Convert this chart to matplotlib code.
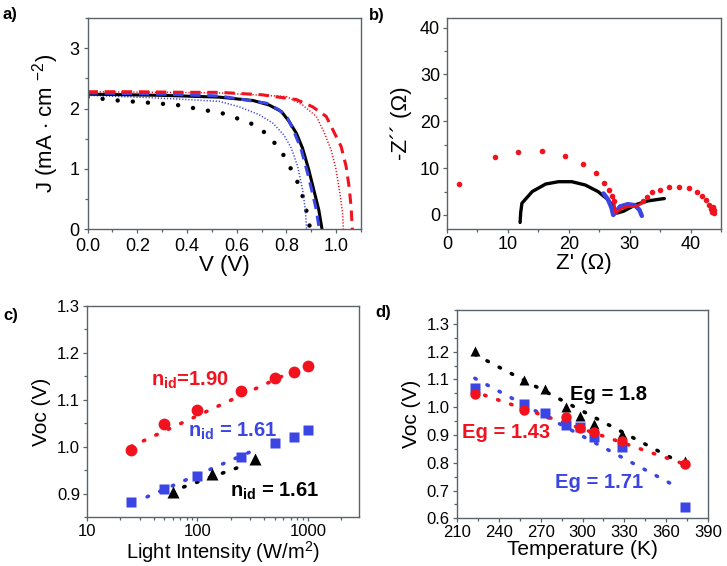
"""
Four-panel solar cell characterisation figure: J-V, Nyquist, Voc vs light, Voc vs T.
"""

import matplotlib

matplotlib.use("Agg")
import matplotlib.pyplot as plt
from matplotlib.ticker import MultipleLocator, LogLocator, NullFormatter

plt.rcParams["font.family"] = ["Liberation Sans", "DejaVu Sans"]
plt.rcParams["mathtext.fontset"] = "custom"
plt.rcParams["mathtext.rm"] = "Liberation Sans"
plt.rcParams["mathtext.it"] = "Liberation Sans:italic"
plt.rcParams["mathtext.bf"] = "Liberation Sans:bold"

RED = "#f2121e"
BLUE = "#3b45e4"
BLACK = "#000000"
FRAME = "#59636a"

# ---- a) J-V curves ----
red_dash_v = [0.0, 0.2, 0.4, 0.53, 0.7, 0.84, 0.905, 0.96, 0.99, 1.02, 1.04, 1.052, 1.06, 1.065]
red_dash_j = [2.28, 2.28, 2.27, 2.27, 2.23, 2.15, 2.03, 1.87, 1.62, 1.37, 1.04, 0.70, 0.37, 0.0]
red_dot_v = [0.0, 0.3, 0.53, 0.8, 0.865, 0.92, 0.95, 0.98, 1.0, 1.015, 1.026, 1.029]
red_dot_j = [2.28, 2.27, 2.26, 2.20, 2.06, 1.87, 1.62, 1.31, 0.98, 0.59, 0.26, 0.0]
blue_dash_v = [0.0, 0.3, 0.53, 0.72, 0.77, 0.805, 0.83, 0.858, 0.885, 0.905, 0.92, 0.932]
blue_dash_j = [2.26, 2.24, 2.21, 2.09, 1.98, 1.84, 1.62, 1.34, 0.93, 0.59, 0.32, 0.0]
black_solid_v = [0.0, 0.3, 0.53, 0.665, 0.73, 0.78, 0.81, 0.84, 0.865, 0.89, 0.91, 0.93, 0.943]
black_solid_j = [2.24, 2.22, 2.19, 2.135, 2.06, 1.95, 1.79, 1.59, 1.34, 0.98, 0.65, 0.32, 0.0]
blue_dot_v = [0.0, 0.2, 0.36, 0.53, 0.61, 0.69, 0.745, 0.79, 0.82, 0.845, 0.865, 0.876, 0.881]
blue_dot_j = [2.22, 2.19, 2.16, 2.12, 2.03, 1.90, 1.76, 1.56, 1.34, 1.04, 0.65, 0.32, 0.0]
black_dot_v = [0.0, 0.12, 0.24, 0.36, 0.45, 0.54, 0.6, 0.65, 0.70, 0.74, 0.78, 0.81, 0.836,
               0.858, 0.876, 0.889, 0.895]
black_dot_j = [2.19, 2.135, 2.10, 2.06, 1.99, 1.925, 1.84, 1.77, 1.65, 1.49, 1.29, 1.06, 0.86,
               0.65, 0.38, 0.15, 0.0]

# ---- b) Nyquist ----
red_z_re = [1.95, 7.96, 11.6, 15.6, 19.3, 22.3, 24.4, 25.8, 26.6, 27.1, 27.5,
            32.2, 32.9, 33.6, 35.0, 36.4, 38.1, 39.7, 41.1, 41.9, 42.6, 43.1, 43.4, 43.6,
            43.7, 43.8, 43.9]
red_z_im = [6.7, 12.4, 13.4, 13.6, 12.6, 10.9, 8.9, 6.9, 5.4, 4.1, 2.9,
            2.9, 3.9, 4.8, 5.3, 5.9, 6.0, 5.7, 5.0, 4.1, 3.2, 2.1, 1.3, 0.6,
            1.7, 1.0, 0.5]
red_arc_re = [27.3, 27.5, 27.7, 28.7, 29.8, 31.0, 31.6, 32.4]
red_arc_im = [4.0, 2.0, 0.4, 1.4, 1.8, 1.8, 2.2, 2.9]
blue_z_re = [25.7, 26.4, 27.0, 27.3, 27.6, 28.4, 29.7, 30.8, 31.6, 32.0]
blue_z_im = [4.6, 3.4, 1.6, 0.0, 0.4, 1.8, 2.3, 2.1, 1.1, -0.2]
black_z_re = [12.0, 12.1, 12.3, 14.0, 16.2, 18.3, 20.5, 22.7, 24.8, 26.5, 27.6, 27.9,
              29.0, 31.0, 33.0, 35.1, 35.7]
black_z_im = [-1.6, 0.5, 2.5, 5.0, 6.6, 7.1, 7.1, 6.4, 5.0, 3.2, 1.1, 0.4,
              0.8, 2.2, 3.0, 3.4, 3.5]

# ---- c) Voc vs light intensity ----
light_sq = [25, 50, 100, 250, 500, 750, 1000]
voc_red_c = [0.993, 1.049, 1.078, 1.119, 1.146, 1.160, 1.173]
voc_blue_c = [0.882, 0.909, 0.938, 0.978, 1.008, 1.021, 1.035]
light_tri = [60, 135, 330]
voc_black_c = [0.904, 0.942, 0.973]
fit_red_c_x = [25, 800]
fit_red_c_y = [1.000, 1.165]
fit_blue_c_x = [35, 330]
fit_blue_c_y = [0.893, 0.993]
fit_black_c_x = [75, 250]
fit_black_c_y = [0.914, 0.958]

# ---- d) Voc vs temperature ----
temp_tri = [223, 258, 273, 288, 298, 308, 328, 373]
voc_black_d = [1.204, 1.098, 1.065, 0.999, 0.969, 0.941, 0.903, 0.807]
temp_sq = [223, 258, 273, 288, 298, 308, 328, 373]
voc_blue_d = [1.068, 1.011, 0.979, 0.937, 0.930, 0.893, 0.855, 0.642]
temp_circ = [223, 258, 288, 298, 308, 328, 373]
voc_red_d = [1.047, 0.990, 0.963, 0.925, 0.909, 0.879, 0.797]
fit_black_d_x = [223, 372]
fit_black_d_y = [1.19, 0.795]
fit_red_d_x = [230, 373]
fit_red_d_y = [1.043, 0.795]
fit_blue_d_x = [223, 365]
fit_blue_d_y = [1.104, 0.72]

FIT_STYLE = dict(lw=2.6, linestyle=(0, (0.4, 3.4)), dash_capstyle="round")


def _style(ax, tick_fs):
    for sp in ax.spines.values():
        sp.set_color(FRAME)
        sp.set_linewidth(1.0)
    ax.tick_params(which="both", direction="out", color=FRAME, width=0.9,
                   labelsize=tick_fs, pad=2, top=False, right=False)
    ax.tick_params(which="major", length=3)
    ax.tick_params(which="minor", length=2)


fig = plt.figure(figsize=(7.27, 5.66), dpi=100)

# a)
ax = fig.add_axes([0.1204, 0.5954, 0.3762, 0.3723])
ax.plot(black_dot_v, black_dot_j, color=BLACK, lw=3.2, linestyle=(0, (0.01, 3.4)),
        dash_capstyle="round")
ax.plot(blue_dot_v, blue_dot_j, color=BLUE, lw=1.1, linestyle=(0, (0.8, 1.2)))
ax.plot(red_dot_v, red_dot_j, color=RED, lw=1.1, linestyle=(0, (0.8, 1.2)))
ax.plot(black_solid_v, black_solid_j, color=BLACK, lw=2.2)
ax.plot(blue_dash_v, blue_dash_j, color=BLUE, lw=2.2, linestyle=(0, (3.4, 2.2)))
ax.plot(red_dash_v, red_dash_j, color=RED, lw=2.2, linestyle=(0, (3.4, 2.2)))
ax.set_xlim(0, 1.1)
ax.set_ylim(0, 3.5)
ax.xaxis.set_major_locator(MultipleLocator(0.2))
ax.xaxis.set_minor_locator(MultipleLocator(0.1))
ax.yaxis.set_major_locator(MultipleLocator(1))
ax.yaxis.set_minor_locator(MultipleLocator(0.5))
ax.xaxis.set_major_formatter(plt.FormatStrFormatter("%.1f"))
ax.set_xlabel("V (V)", fontsize=16, labelpad=0)
ax.set_ylabel(r"J (mA $\cdot$ cm $^{-2}$)", fontsize=16, labelpad=6)
_style(ax, 13)
ax.tick_params(axis="x", pad=3.5)
ax.tick_params(axis="y", pad=3)
fig.text(0.003, 0.975, "a)", fontsize=12, fontweight="bold", va="center")

# b)
ax = fig.add_axes([0.6149, 0.5954, 0.3768, 0.3723])
ax.plot(black_z_re, black_z_im, color=BLACK, lw=2.4, solid_capstyle="round")
ax.plot(blue_z_re, blue_z_im, color=BLUE, lw=3.2, solid_capstyle="round")
ax.plot(red_arc_re, red_arc_im, color=RED, lw=2.0)
ax.plot(red_z_re, red_z_im, "o", color=RED, ms=4, mec="none")
ax.set_xlim(0, 45)
ax.set_ylim(-3, 42)
ax.xaxis.set_major_locator(MultipleLocator(10))
ax.xaxis.set_minor_locator(MultipleLocator(5))
ax.yaxis.set_major_locator(MultipleLocator(10))
ax.yaxis.set_minor_locator(MultipleLocator(5))
ax.set_xlabel("Z' (Ω)", fontsize=16, labelpad=0)
ax.set_ylabel("-Z´´ (Ω)", fontsize=16, labelpad=6)
_style(ax, 13)
fig.text(0.508, 0.973, "b)", fontsize=12, fontweight="bold", va="center")

# c)
ax = fig.add_axes([0.1197, 0.0866, 0.3741, 0.3728])
ax.plot(fit_red_c_x, fit_red_c_y, color=RED, **FIT_STYLE)
ax.plot(fit_blue_c_x, fit_blue_c_y, color=BLUE, **FIT_STYLE)
ax.plot(fit_black_c_x, fit_black_c_y, color=BLACK, **FIT_STYLE)
ax.plot(light_sq, voc_red_c, "o", color=RED, ms=8.5, mec="none")
ax.plot(light_sq, voc_blue_c, "s", color=BLUE, ms=7.5, mec="none")
ax.plot(light_tri, voc_black_c, "^", color=BLACK, ms=8.5, mec="none")
ax.set_xscale("log")
ax.set_xlim(10, 2900)
ax.set_ylim(0.85, 1.3)
ax.xaxis.set_major_locator(LogLocator(base=10))
ax.xaxis.set_minor_locator(LogLocator(base=10, subs=range(2, 10)))
ax.xaxis.set_minor_formatter(NullFormatter())
ax.xaxis.set_major_formatter(plt.FuncFormatter(lambda v, p: f"{v:g}"))
ax.yaxis.set_major_locator(MultipleLocator(0.1))
ax.yaxis.set_minor_locator(MultipleLocator(0.05))
ax.yaxis.set_major_formatter(plt.FormatStrFormatter("%.1f"))
ax.set_xlabel(r"Light Intensity (W/m$^2$)", fontsize=14.5, labelpad=0)
ax.set_ylabel("Voc (V)", fontsize=15, labelpad=4)
_style(ax, 12)
ax.text(38, 1.142, r"n$_\mathbf{id}$=1.90", color=RED, fontsize=14.5, fontweight="bold",
        va="center")
ax.text(82, 1.032, r"n$_\mathbf{id}$ = 1.61", color=BLUE, fontsize=14.5, fontweight="bold",
        va="center")
ax.text(195, 0.904, r"n$_\mathbf{id}$ = 1.61", color=BLACK, fontsize=14.5, fontweight="bold",
        va="center")
fig.text(0.005, 0.443, "c)", fontsize=12, fontweight="bold", va="center")

# d)
ax = fig.add_axes([0.6282, 0.0843, 0.3461, 0.3680])
ax.plot(fit_black_d_x, fit_black_d_y, color=BLACK, **FIT_STYLE)
ax.plot(fit_blue_d_x, fit_blue_d_y, color=BLUE, **FIT_STYLE)
ax.plot(fit_red_d_x, fit_red_d_y, color=RED, **FIT_STYLE)
ax.plot(temp_sq, voc_blue_d, "s", color=BLUE, ms=6.5, mec="none")
ax.plot(temp_tri, voc_black_d, "^", color=BLACK, ms=7.5, mec="none")
ax.plot(temp_circ, voc_red_d, "o", color=RED, ms=7.5, mec="none")
ax.set_xlim(210, 390)
ax.set_ylim(0.6, 1.35)
ax.xaxis.set_major_locator(MultipleLocator(30))
ax.xaxis.set_minor_locator(MultipleLocator(15))
ax.yaxis.set_major_locator(MultipleLocator(0.1))
ax.yaxis.set_minor_locator(MultipleLocator(0.05))
ax.yaxis.set_major_formatter(plt.FormatStrFormatter("%.1f"))
ax.set_xlabel("Temperature (K)", fontsize=15, labelpad=0)
ax.set_ylabel("Voc (V)", fontsize=15, labelpad=4)
_style(ax, 12)
ax.text(291, 1.047, "Eg = 1.8", color=BLACK, fontsize=14.5, fontweight="bold", va="center")
ax.text(213.6, 0.909, "Eg = 1.43", color=RED, fontsize=14.5, fontweight="bold", va="center")
ax.text(280, 0.728, "Eg = 1.71", color=BLUE, fontsize=14.5, fontweight="bold", va="center")
fig.text(0.516, 0.447, "d)", fontsize=12, fontweight="bold", va="center")

fig.savefig("out.png", dpi=100)
